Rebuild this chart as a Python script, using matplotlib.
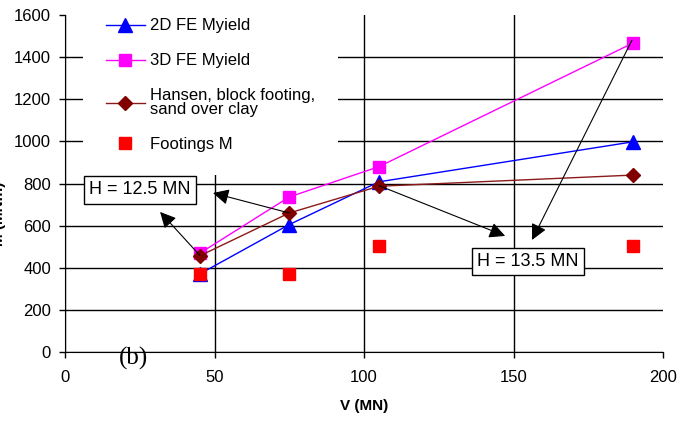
import matplotlib.pyplot as plt

plt.rcParams['font.family'] = ['Liberation Sans', 'DejaVu Sans']

# data
v_mn = [45, 75, 105, 190]
fe2d_myield = [370, 605, 808, 998]
fe3d_myield = [468, 736, 880, 1467]
hansen_m = [456, 660, 787, 840]
footings_m = [368, 372, 504, 505]

x_ticks = [0, 50, 100, 150, 200]
y_ticks = [0, 200, 400, 600, 800, 1000, 1200, 1400, 1600]

fig = plt.figure(figsize=(6.84, 4.28), dpi=100)
ax = fig.add_axes([65 / 684, 1 - 352 / 428, 598 / 684, 337 / 428])

ax.plot(v_mn, fe2d_myield, color='#0000ff', lw=1, marker='^', ms=10, label='2D FE Myield', zorder=3)
ax.plot(v_mn, fe3d_myield, color='#ff00ff', lw=1, marker='s', ms=9, label='3D FE Myield', zorder=3)
ax.plot(v_mn, hansen_m, color='#8b1a1a', lw=1, marker='D', ms=7.5, mfc='#800000', mec='#800000',
        label='Hansen, block footing,\nsand over clay', zorder=3)
ax.plot(v_mn, footings_m, color='#ff0000', lw=0, marker='s', ms=9, label='Footings M', zorder=3)

ax.set_xlim(0, 200)
ax.set_ylim(0, 1600)
ax.set_xticks(x_ticks)
ax.set_yticks(y_ticks)
ax.tick_params(axis='both', labelsize=12, direction='out', length=4, width=1, color='black')
ax.tick_params(axis='x', pad=9)
ax.tick_params(axis='y', pad=6)
for lbl in ax.get_xticklabels() + ax.get_yticklabels():
    lbl.set_fontstretch('condensed')
ax.spines['top'].set_visible(False)
ax.spines['right'].set_visible(False)

# grid, without the lines on the outer edges
ax.grid(True, color='black', lw=1)
ax.set_axisbelow(True)
ax.xaxis.get_gridlines()[-1].set_visible(False)
ax.yaxis.get_gridlines()[-1].set_visible(False)

ax.set_xlabel('V (MN)', fontsize=11, fontweight='bold', labelpad=10)
fig.text(6 / 684, 0.5, 'M (MNm)', rotation=90, ha='right', va='center',
         fontsize=11, fontweight='bold')

leg = ax.legend(loc='upper left', bbox_to_anchor=(0.03, 1.059), borderaxespad=0,
                frameon=True, fancybox=False, edgecolor='none', facecolor='white',
                framealpha=1, fontsize=12, labelspacing=1.2, handlelength=2.3,
                handletextpad=0.3, borderpad=1.4, numpoints=1)
leg.get_texts()[2].set_linespacing(0.85)
leg.set_zorder(4)

# annotations with arrows
box = dict(boxstyle='square,pad=0.3', fc='white', ec='black', lw=1)
arrow = dict(arrowstyle='-|>', color='black', lw=0.8, mutation_scale=24, shrinkA=0, shrinkB=0)

ax.text(25, 770, 'H = 12.5 MN', fontsize=13, ha='center', va='center', bbox=box, zorder=5)
ax.annotate('', xy=(49.5, 755), xytext=(75, 660), arrowprops=arrow, zorder=5)
ax.annotate('', xy=(31.8, 665), xytext=(45, 460), arrowprops=arrow, zorder=5)

ax.text(154.8, 430, 'H = 13.5 MN', fontsize=13, ha='center', va='center', bbox=box, zorder=5)
ax.annotate('', xy=(147.2, 551), xytext=(105, 790), arrowprops=arrow, zorder=5)
ax.annotate('', xy=(156.2, 532), xytext=(189.6, 1480), arrowprops=arrow, zorder=5)

fig.text(133 / 684, 1 - 358 / 428, '(b)', fontsize=18, family='Liberation Serif',
         ha='center', va='center')

fig.savefig('out.png', dpi=100)
